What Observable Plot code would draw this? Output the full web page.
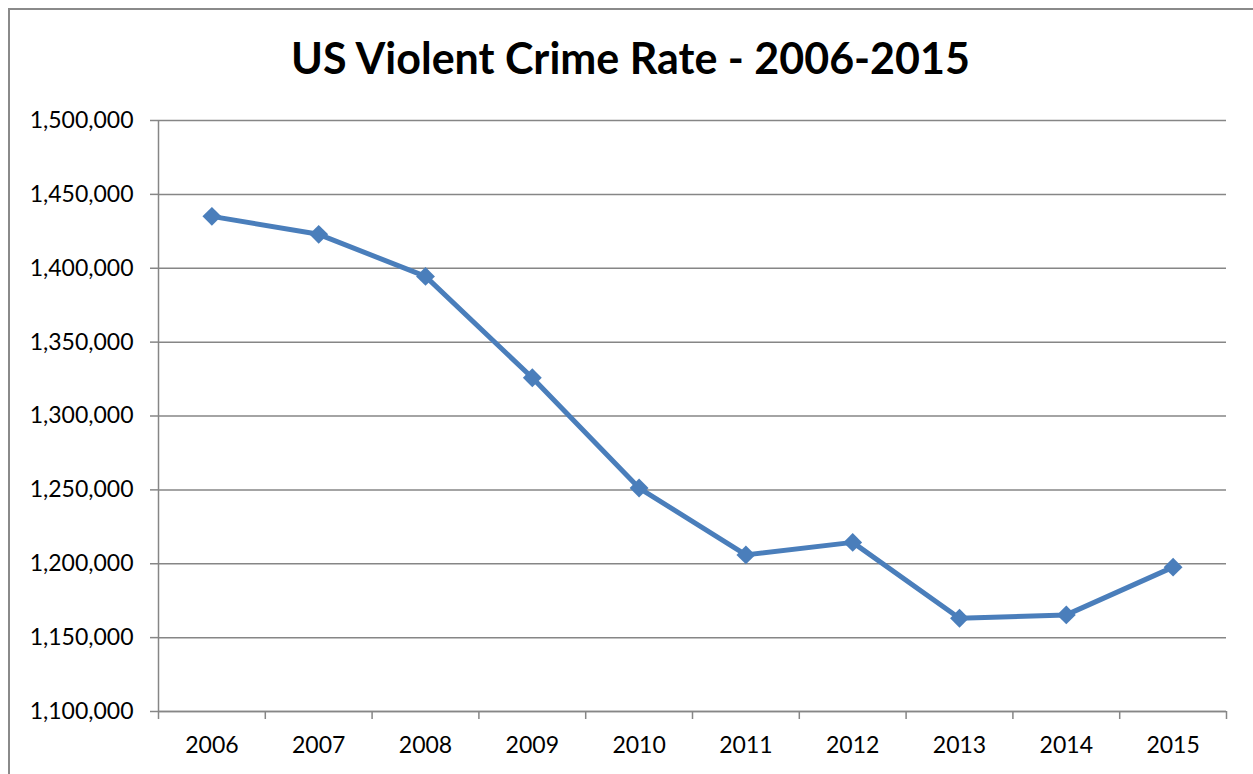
<!DOCTYPE html>
<html><head><meta charset="utf-8">
<script src="https://cdn.jsdelivr.net/npm/d3@7"></script>
<script src="https://cdn.jsdelivr.net/npm/@observablehq/plot@0.6"></script>
<style>
html,body{margin:0;padding:0;background:#fff;overflow:hidden;}
#wrap{position:relative;width:1253px;height:774px;overflow:hidden;font-family:Lato,"Open Sans",sans-serif;}
#frame{position:absolute;left:8px;top:8px;width:1300px;height:800px;border:2px solid #8a8a8a;box-sizing:border-box;}
#title{position:absolute;left:8px;top:0;width:1245px;height:100px;text-align:center;font-weight:700;font-size:43px;line-height:44px;padding-top:36px;box-sizing:border-box;color:#000;}
#chart{position:absolute;left:0;top:100px;}
</style></head>
<body><div id="wrap"><div id="frame"></div><div id="title">US Violent Crime Rate - 2006-2015</div><div id="chart"></div></div>
<script>
const years = [2006, 2007, 2008, 2009, 2010, 2011, 2012, 2013, 2014, 2015];
const crimes = [1435123, 1422970, 1394461, 1325896, 1251248, 1206005, 1214462, 1163146, 1165383, 1197704];
const yTicks = [1100000, 1150000, 1200000, 1250000, 1300000, 1350000, 1400000, 1450000, 1500000];

const data = years.map((year, i) => ({year, value: crimes[i]}));
const bounds = years.map(y => y - 0.5).concat([years[years.length - 1] + 0.5]);
const gray = "#868686";
const blue = "#4a7ebb";

const plot = Plot.plot({
  width: 1253, height: 674,
  marginLeft: 158, marginRight: 27, marginTop: 20, marginBottom: 63,
  style: {fontFamily: "Lato, 'Open Sans', sans-serif", fontSize: "23px", color: "#000", background: "transparent"},
  x: {type: "linear", domain: [bounds[0], bounds[bounds.length - 1]]},
  y: {domain: [yTicks[0], yTicks[yTicks.length - 1]]},
  marks: [
    Plot.gridY(yTicks, {stroke: gray, strokeOpacity: 1, strokeWidth: 1.5}),
    Plot.axisY(yTicks, {tickSize: 8, tickPadding: 17, tickFormat: d3.format(","), stroke: gray, strokeOpacity: 1, strokeWidth: 1.5, fill: "#000", fontSize: 23, label: null}),
    Plot.axisX(bounds, {tickSize: 8, tickFormat: () => "", stroke: gray, strokeOpacity: 1, strokeWidth: 1.5, label: null}),
    Plot.axisX(years, {tickSize: 0, tickPadding: 25, tickFormat: d => String(d), fill: "#000", fontSize: 23, label: null}),
    Plot.ruleX([bounds[0]], {stroke: gray, strokeWidth: 1.5}),
    Plot.ruleY([yTicks[0]], {stroke: gray, strokeWidth: 1.5}),
    Plot.line(data, {x: "year", y: "value", stroke: blue, strokeWidth: 5}),
    Plot.dot(data, {x: "year", y: "value", symbol: "diamond2", r: 8.5, fill: blue, stroke: null})
  ]
});
document.getElementById("chart").append(plot);
</script>
</body></html>
